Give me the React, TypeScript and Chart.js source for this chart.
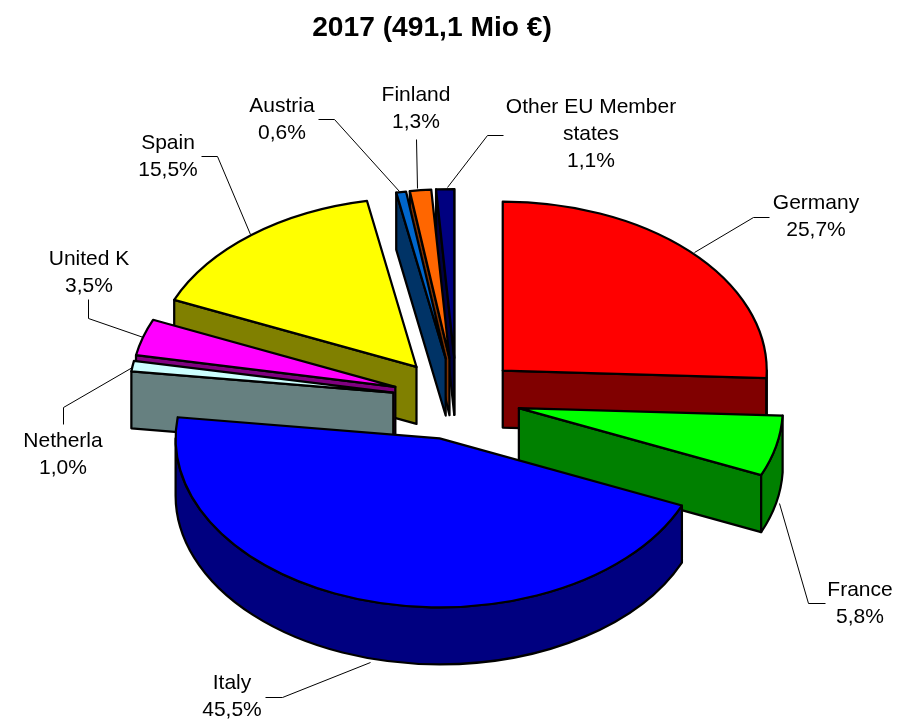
import React, { useEffect, useRef } from "react";
import { Chart, registerables } from "chart.js";

Chart.register(...registerables);

const titleText = "2017 (491,1 Mio €)";
const categories = ["Germany", "France", "Italy", "Netherla", "United K", "Spain", "Austria", "Finland", "Other EU Member\nstates"];
const shares = [25.7, 5.8, 45.5, 1.0, 3.5, 15.5, 0.6, 1.3, 1.1];
const topColors = ["#FF0000", "#00FF00", "#0000FF", "#CCFFFF", "#FF00FF", "#FFFF00", "#0066CC", "#FF6600", "#000080"];
const sideColors = ["#800000", "#008000", "#000080", "#668080", "#800080", "#808000", "#003366", "#803300", "#000040"];

// Label centre (x, y of first line) and leader polyline for every category.
const labelCenters = [[816, 203], [860, 590], [232, 683], [63, 441], [89, 259], [168, 143], [282, 106], [416, 95], [591, 107]];
const leaders = [
  [[769, 217], [753, 217], [694, 252]],
  [[825, 603], [808, 603], [779, 503]],
  [[265, 697], [282, 697], [370, 662]],
  [[63, 424], [63, 407], [132, 367]],
  [[88, 299], [88, 318], [143, 337]],
  [[201, 156], [217, 156], [250, 234]],
  [[318, 119], [334, 119], [399, 191]],
  [[416, 139], [417, 188]],
  [[503, 135], [487, 135], [447, 187]],
];

const RADIUS = 264;
const EXPLODE = 64;
const TILT = 0.64;
const DEPTH = 57;
const OUTLINE = 2.25;
const TITLE_CENTER = 432;
const FONT = '"Liberation Sans", Arial, sans-serif';

const pie3d = {
  id: "pie3d",
  afterLayout(chart: any) {
    chart.titleBlock.left = 0;
    chart.titleBlock.right = TITLE_CENTER * 2;
  },
  afterDatasetsUpdate(chart: any) {
    const meta = chart.getDatasetMeta(0);
    meta.data.forEach((arc: any) => {
      const mid = (arc.startAngle + arc.endAngle) / 2;
      arc.x += Math.cos(mid) * EXPLODE;
      arc.y += Math.sin(mid) * EXPLODE;
    });
  },
  beforeDatasetDraw(chart: any) {
    const { ctx, chartArea } = chart;
    const cy = (chartArea.top + chartArea.bottom) / 2;
    const arcs = chart.getDatasetMeta(0).data.map((arc: any, i: number) => ({
      i,
      X: arc.x,
      Y: cy + (arc.y - cy) * TILT,
      a0: arc.startAngle,
      a1: arc.endAngle,
    }));
    arcs.sort((p: any, q: any) => p.Y - q.Y);
    ctx.save();
    ctx.lineWidth = OUTLINE;
    ctx.lineJoin = "round";
    ctx.strokeStyle = "#000";
    const rx = RADIUS;
    const ry = RADIUS * TILT;
    for (const s of arcs) {
      ctx.fillStyle = sideColors[s.i];
      const radial = (a: number) => {
        const ex = s.X + rx * Math.cos(a);
        const ey = s.Y + ry * Math.sin(a);
        ctx.beginPath();
        ctx.moveTo(s.X, s.Y);
        ctx.lineTo(ex, ey);
        ctx.lineTo(ex, ey + DEPTH);
        ctx.lineTo(s.X, s.Y + DEPTH);
        ctx.closePath();
        ctx.fill();
        ctx.stroke();
      };
      if (Math.cos(s.a0) < 0) radial(s.a0);
      if (Math.cos(s.a1) > 0) radial(s.a1);
      const from = Math.max(s.a0, 0);
      const to = Math.min(s.a1, Math.PI);
      if (to > from) {
        ctx.beginPath();
        ctx.ellipse(s.X, s.Y, rx, ry, 0, from, to);
        ctx.ellipse(s.X, s.Y + DEPTH, rx, ry, 0, to, from, true);
        ctx.closePath();
        ctx.fill();
        ctx.stroke();
      }
    }
    ctx.restore();
    ctx.save();
    ctx.translate(0, cy);
    ctx.scale(1, TILT);
    ctx.translate(0, -cy);
  },
  afterDatasetDraw(chart: any) {
    const { ctx, chartArea } = chart;
    ctx.restore();
    const cy = (chartArea.top + chartArea.bottom) / 2;
    ctx.save();
    ctx.lineWidth = OUTLINE;
    ctx.lineJoin = "round";
    ctx.strokeStyle = "#000";
    chart.getDatasetMeta(0).data.forEach((arc: any) => {
      const X = arc.x;
      const Y = cy + (arc.y - cy) * TILT;
      ctx.beginPath();
      ctx.moveTo(X, Y);
      ctx.ellipse(X, Y, RADIUS, RADIUS * TILT, 0, arc.startAngle, arc.endAngle);
      ctx.closePath();
      ctx.stroke();
    });
    ctx.restore();

    ctx.save();
    ctx.strokeStyle = "#000";
    ctx.lineWidth = 1;
    leaders.forEach((pts) => {
      ctx.beginPath();
      pts.forEach((p, k) => (k ? ctx.lineTo(p[0] + 0.5, p[1] + 0.5) : ctx.moveTo(p[0] + 0.5, p[1] + 0.5)));
      ctx.stroke();
    });
    ctx.fillStyle = "#000";
    ctx.font = `21px ${FONT}`;
    ctx.textAlign = "center";
    ctx.textBaseline = "middle";
    categories.forEach((name, i) => {
      const lines = [...name.split("\n"), shares[i].toFixed(1).replace(".", ",") + "%"];
      lines.forEach((line, k) => {
        ctx.fillText(line, labelCenters[i][0], labelCenters[i][1] + k * 27);
      });
    });
    ctx.restore();
  },
};

export default function App() {
  const ref = useRef<HTMLCanvasElement>(null);
  useEffect(() => {
    document.body.style.margin = "0";
    const chart = new Chart(ref.current!, {
      type: "pie",
      data: {
        labels: categories,
        datasets: [{ data: shares, backgroundColor: topColors, borderWidth: 0, clip: false } as any],
      },
      options: {
        responsive: false,
        animation: false,
        radius: RADIUS,
        layout: { padding: { right: 4 } },
        plugins: {
          legend: { display: false },
          tooltip: { enabled: false },
          title: {
            display: true,
            text: titleText,
            color: "#000",
            font: { family: FONT, size: 28.2, weight: "bold" },
            padding: { top: 11, bottom: 28 },
          },
        },
      } as any,
      plugins: [pie3d],
    });
    return () => chart.destroy();
  }, []);
  return <canvas ref={ref} width={917} height={725} style={{ display: "block" }} />;
}
